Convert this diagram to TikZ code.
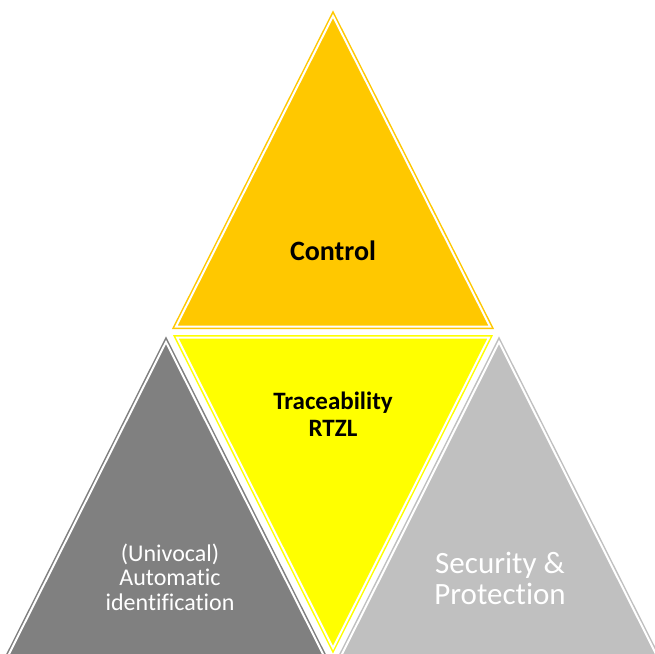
\documentclass[tikz,border=0pt]{standalone}
\usepackage{fontspec}
\setmainfont{Carlito}[Ligatures=NoCommon]
\definecolor{ctrlorange}{RGB}{255,200,0}
\definecolor{traceyellow}{RGB}{255,255,0}
\definecolor{idgray}{RGB}{128,128,128}
\definecolor{secgray}{RGB}{192,192,192}

\begin{document}
\begin{tikzpicture}[x=1pt, y=-1pt,
    tri/.style={line width=1.5pt, double=white, double distance=2pt, draw=#1, fill=#1},
    lbl/.style={align=center, inner sep=0pt}]
   \clip (0,0) rectangle (655,653);
   \draw[tri=ctrlorange] (333,16) -- (490,326.5) -- (176,326.5) -- cycle;
   \draw[tri=traceyellow] (177,337.5) -- (489,337.5) -- (333,648) -- cycle;
   \draw[tri=idgray] (166,342) -- (327,662) -- (5,662) -- cycle;
   \draw[tri=secgray] (499,342) -- (660,662) -- (338,662) -- cycle;
   \node[lbl, font=\bfseries\fontsize{28}{33}\selectfont] (control) at (333,251) {Control};
   \node[lbl, font=\bfseries\fontsize{25}{27}\selectfont] (trace) at (333,414) {Traceability\\RTZL};
   \node[lbl, text=white, font=\fontsize{24}{24.5}\selectfont] (autoid) at (170,577) {(Univocal)\\Automatic\\identification};
   \node[lbl, text=white, font=\fontsize{31}{31}\selectfont] (secprot) at (500,578) {Security \&\\Protection};
\end{tikzpicture}
\end{document}
